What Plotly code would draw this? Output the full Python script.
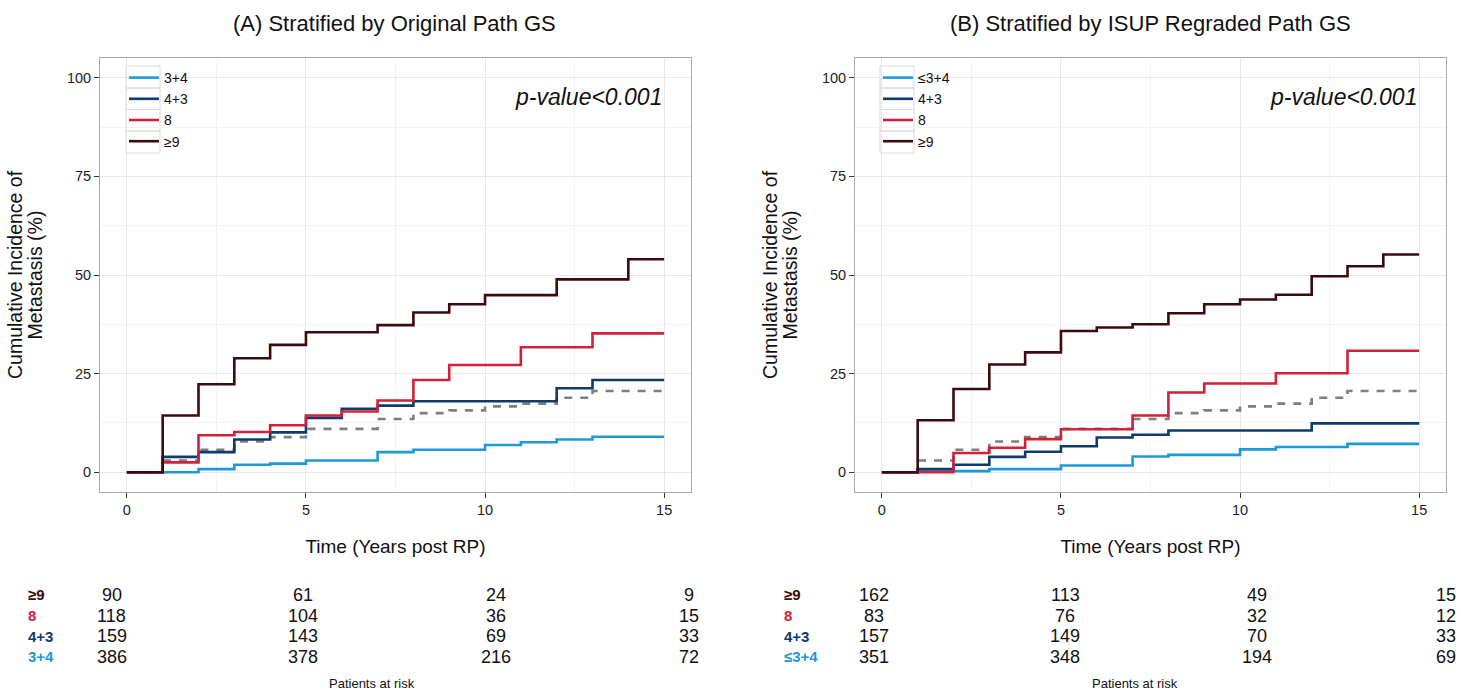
import plotly.graph_objects as go

W, H = 1461, 692

years = list(range(0, 16))

groups_A = ["3+4", "4+3", "8", "≥9"]
groups_B = ["≤3+4", "4+3", "8", "≥9"]

# Panel A cumulative incidence (%) after each yearly step
A_34 = [0, 0, 0.8, 1.9, 2.2, 3.0, 3.0, 5.1, 5.7, 5.7, 6.9, 7.6, 8.3, 9.0, 9.0, 9.0]
A_43 = [0, 3.9, 5.1, 8.3, 10.1, 13.8, 16.1, 16.9, 18.0, 18.0, 18.0, 18.0, 21.3, 23.4, 23.4, 23.4]
A_8 = [0, 2.5, 9.4, 10.2, 11.9, 14.4, 15.4, 18.2, 23.4, 27.2, 27.2, 31.7, 31.7, 35.2, 35.2, 35.2]
A_9 = [0, 14.4, 22.3, 28.9, 32.3, 35.5, 35.5, 37.3, 40.5, 42.6, 44.9, 44.9, 48.9, 48.9, 54.0, 54.0]

# Panel B
B_34 = [0, 0.2, 0.3, 0.8, 0.8, 1.7, 1.7, 4.0, 4.4, 4.4, 5.8, 6.4, 6.4, 7.2, 7.2, 7.2]
B_43 = [0, 0.8, 1.9, 3.9, 5.2, 6.6, 8.8, 9.5, 10.6, 10.6, 10.6, 10.6, 12.4, 12.4, 12.4, 12.4]
B_8 = [0, 0, 4.9, 6.2, 8.4, 10.9, 10.9, 14.4, 20.2, 22.5, 22.5, 25.1, 25.1, 30.8, 30.8, 30.8]
B_9 = [0, 13.2, 21.1, 27.3, 30.4, 35.8, 36.7, 37.5, 40.3, 42.6, 43.8, 45.0, 49.7, 52.2, 55.2, 55.2]

# Overall cohort (dashed grey)
overall = [0, 3.0, 5.7, 7.8, 8.9, 11.0, 11.0, 13.5, 15.0, 15.7, 16.7, 17.4, 18.9, 20.6, 20.6, 20.6]

# Patients at risk (rows top->bottom: ≥9, 8, 4+3, 3+4)
risk_labels_A = ["≥9", "8", "4+3", "3+4"]
risk_labels_B = ["≥9", "8", "4+3", "≤3+4"]
risk_A = [[90, 61, 24, 9], [118, 104, 36, 15], [159, 143, 69, 33], [386, 378, 216, 72]]
risk_B = [[162, 113, 49, 15], [83, 76, 32, 12], [157, 149, 70, 33], [351, 348, 194, 69]]

colors = {"3+4": "#1b9ad7", "≤3+4": "#1b9ad7", "4+3": "#0f3a6b", "8": "#d0203a", "≥9": "#3c0a0d"}
grey = "#7f7f7f"

fig = go.Figure()

def add_panel(xa, ya, legend, names, series):
    fig.add_trace(go.Scatter(x=years, y=overall, mode="lines", line_shape="hv",
                             line=dict(color=grey, width=2.6, dash="8px,8px"),
                             showlegend=False, xaxis=xa, yaxis=ya, hoverinfo="skip"))
    for n, s in zip(names, series):
        fig.add_trace(go.Scatter(x=years, y=s, mode="lines", line_shape="hv", name=n,
                                 line=dict(color=colors[n], width=2.6),
                                 xaxis=xa, yaxis=ya, legend=legend))

add_panel("x", "y", "legend", groups_A, [A_34, A_43, A_8, A_9])
add_panel("x2", "y2", "legend2", groups_B, [B_34, B_43, B_8, B_9])

def px(x):
    return x / W

def py(y):
    return 1 - y / H

dom_y = [py(492), py(58)]
xdomA = [px(100), px(691)]
xdomB = [px(855), px(1446)]

axis_common = dict(showline=True, linecolor="#a9a9a9", linewidth=1, mirror=True,
                   ticks="outside", ticklen=5, tickcolor="#333333", tickwidth=1,
                   showgrid=True, gridcolor="#e8e8e8", gridwidth=1, zeroline=False,
                   tickfont=dict(family="Arial", size=14.5, color="#222222"))

xax = dict(axis_common, range=[-0.75, 15.75], tickvals=[0, 5, 10, 15],
           minor=dict(tickvals=[2.5, 7.5, 12.5], showgrid=True, gridcolor="#f3f3f3", ticks=""),
           title=dict(text="Time (Years post RP)", font=dict(family="Arial", size=19, color="#111111"), standoff=22))
yax = dict(axis_common, range=[-5, 105], tickvals=[0, 25, 50, 75, 100],
           minor=dict(tickvals=[12.5, 37.5, 62.5, 87.5], showgrid=True, gridcolor="#f3f3f3", ticks=""))

leg_common = dict(xanchor="left", yanchor="top", bgcolor="rgba(0,0,0,0)",
                  font=dict(family="Arial", size=14, color="#111111"), tracegroupgap=0, itemwidth=30)

fig.update_layout(
    width=W, height=H, margin=dict(l=0, r=0, t=0, b=0),
    paper_bgcolor="white", plot_bgcolor="white",
    font=dict(family="Arial", color="#111111"),
    xaxis=dict(xax, domain=xdomA, anchor="y"),
    yaxis=dict(yax, domain=dom_y, anchor="x"),
    xaxis2=dict(xax, domain=xdomB, anchor="y2"),
    yaxis2=dict(yax, domain=dom_y, anchor="x2"),
    legend=dict(leg_common, x=px(124), y=py(62)),
    legend2=dict(leg_common, x=px(878), y=py(62)),
    showlegend=True,
)

# light boxes around legend keys (ggplot-style key backgrounds)
shapes = []
box_edges = [66, 88, 109.5, 131, 153]
for x0 in (126, 880):
    for i in range(4):
        shapes.append(dict(type="rect", xref="paper", yref="paper",
                           x0=px(x0), x1=px(x0 + 34), y0=py(box_edges[i + 1]), y1=py(box_edges[i]),
                           line=dict(color="#dadada", width=1), fillcolor="rgba(0,0,0,0)", layer="below"))

ann = []
# Titles
ann.append(dict(text="(A) Stratified by Original Path GS", x=px(395), y=py(23), xref="paper", yref="paper",
                xanchor="center", yanchor="middle",
                showarrow=False, font=dict(family="Arial", size=22, color="#111111")))
ann.append(dict(text="(B) Stratified by ISUP Regraded Path GS", x=px(1150), y=py(23), xref="paper", yref="paper",
                xanchor="center", yanchor="middle",
                showarrow=False, font=dict(family="Arial", size=22, color="#111111")))
# y-axis titles (two tightly spaced lines)
for x1, x2 in [(15, 34.5), (770, 789.5)]:
    ann.append(dict(text="Cumulative Incidence of", x=px(x1), y=py(275), xref="paper", yref="paper",
                    xanchor="center", yanchor="middle", textangle=-90, showarrow=False,
                    font=dict(family="Arial", size=19.5, color="#111111")))
    ann.append(dict(text="Metastasis (%)", x=px(x2), y=py(275), xref="paper", yref="paper",
                    xanchor="center", yanchor="middle", textangle=-90, showarrow=False,
                    font=dict(family="Arial", size=19.5, color="#111111")))
# p-values
for xr, yr in [("x", "y"), ("x2", "y2")]:
    ann.append(dict(text="<i>p-value<0.001</i>", x=15, y=95, xref=xr, yref=yr, xanchor="right", yanchor="middle",
                    showarrow=False, font=dict(family="Arial", size=23, color="#111111")))

# Risk tables
row_y = [594.5, 615.5, 636, 656.5]
colsA = [112, 303, 496, 689]
colsB = [874, 1065, 1257, 1446]
for labels, table, lab_x, cols, pr_x in [(risk_labels_A, risk_A, 26, colsA, 372),
                                         (risk_labels_B, risk_B, 782, colsB, 1135)]:
    for r, (lab, row) in enumerate(zip(labels, table)):
        ann.append(dict(text=f"<b>{lab}</b>", x=px(lab_x), y=py(row_y[r]), xref="paper", yref="paper",
                        xanchor="left", yanchor="middle", showarrow=False,
                        font=dict(family="Arial", size=15, color=colors[lab])))
        for c, v in enumerate(row):
            ann.append(dict(text=str(v), x=px(cols[c]), y=py(row_y[r]), xref="paper", yref="paper",
                            xanchor="center", yanchor="middle", showarrow=False,
                            font=dict(family="Arial", size=18, color="#111111")))
    ann.append(dict(text="Patients at risk", x=px(pr_x), y=py(683), xref="paper", yref="paper",
                    xanchor="center", yanchor="middle", showarrow=False,
                    font=dict(family="Arial", size=13, color="#111111")))

fig.update_layout(annotations=ann, shapes=shapes)
fig.write_html("out.html", config={"displayModeBar": False},
               post_script="document.body.style.margin='0';document.body.style.overflow='hidden';")
